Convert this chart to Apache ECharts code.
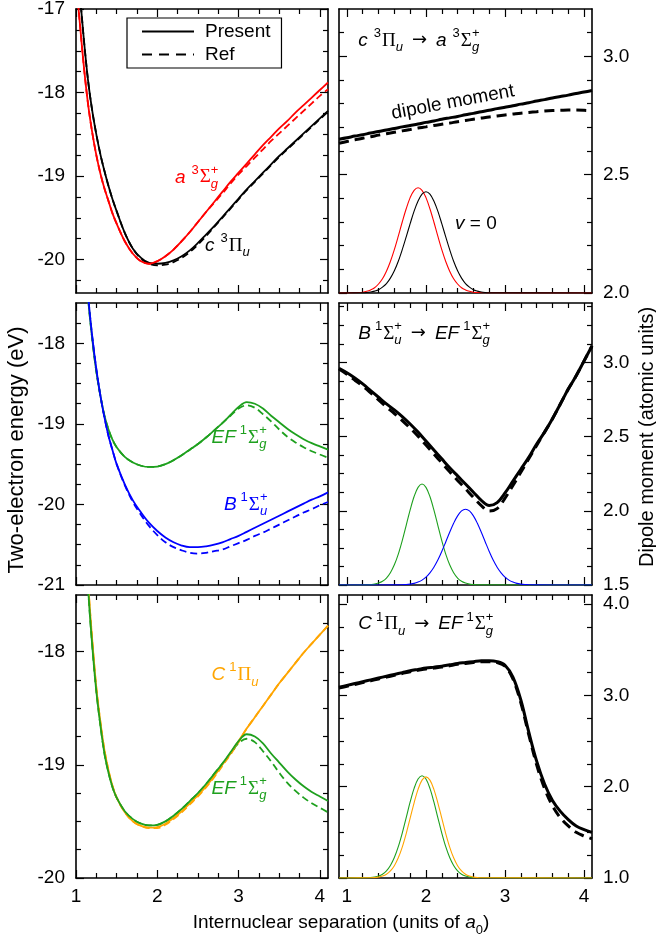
<!DOCTYPE html>
<html><head><meta charset="utf-8">
<script src="https://cdn.jsdelivr.net/npm/echarts@6/dist/echarts.min.js"></script>
<style>html,body{margin:0;padding:0;background:#fff}#c{width:656px;height:939px}</style>
</head><body><div id="c"></div>
<script>
// ================= DATA =================
// Potential energy curves (eV) vs internuclear separation R (a0)
const R_E = [1.0,1.05,1.1,1.15,1.2,1.25,1.3,1.35,1.4,1.45,1.5,1.6,1.7,1.8,1.9,2.0,2.1,2.2,2.3,2.4,2.5,2.6,2.7,2.8,2.9,3.0,3.1,3.2,3.3,3.4,3.5,3.6,3.7,3.8,3.9,4.0,4.1];
const E_c3Pu_present = [-16.3,-16.85,-17.4,-17.87,-18.22,-18.5,-18.74,-18.94,-19.12,-19.28,-19.42,-19.68,-19.87,-19.98,-20.04,-20.05,-20.04,-20.01,-19.96,-19.89,-19.8,-19.7,-19.6,-19.49,-19.38,-19.27,-19.16,-19.06,-18.96,-18.86,-18.76,-18.67,-18.58,-18.49,-18.4,-18.31,-18.22];
const E_c3Pu_ref     = [-16.3,-16.85,-17.4,-17.87,-18.22,-18.5,-18.74,-18.94,-19.12,-19.28,-19.42,-19.68,-19.87,-19.99,-20.05,-20.07,-20.06,-20.03,-19.98,-19.91,-19.82,-19.72,-19.61,-19.5,-19.39,-19.28,-19.17,-19.07,-18.97,-18.87,-18.77,-18.68,-18.59,-18.5,-18.41,-18.32,-18.23];
const E_a3Sg_present = [-16.65,-17.2,-17.72,-18.15,-18.48,-18.75,-18.97,-19.15,-19.3,-19.45,-19.57,-19.78,-19.93,-20.02,-20.05,-20.02,-19.96,-19.88,-19.78,-19.67,-19.55,-19.43,-19.31,-19.19,-19.07,-18.96,-18.85,-18.74,-18.63,-18.53,-18.43,-18.34,-18.24,-18.15,-18.06,-17.97,-17.88];
const E_a3Sg_ref     = [-16.65,-17.2,-17.72,-18.15,-18.48,-18.75,-18.97,-19.15,-19.3,-19.45,-19.57,-19.78,-19.93,-20.02,-20.05,-20.02,-19.96,-19.88,-19.78,-19.67,-19.55,-19.43,-19.32,-19.21,-19.09,-18.98,-18.88,-18.78,-18.68,-18.58,-18.49,-18.4,-18.31,-18.22,-18.13,-18.04,-17.96];
const E_EF_present   = [-15.3,-16.0,-16.75,-17.45,-17.95,-18.35,-18.65,-18.9,-19.07,-19.2,-19.29,-19.41,-19.48,-19.52,-19.535,-19.53,-19.5,-19.45,-19.39,-19.32,-19.25,-19.17,-19.08,-18.99,-18.89,-18.79,-18.73,-18.75,-18.81,-18.9,-18.98,-19.06,-19.13,-19.19,-19.24,-19.28,-19.32];
const E_EF_ref       = [-15.3,-16.0,-16.75,-17.45,-17.95,-18.35,-18.65,-18.9,-19.07,-19.2,-19.29,-19.41,-19.48,-19.52,-19.535,-19.53,-19.5,-19.45,-19.39,-19.32,-19.25,-19.17,-19.08,-18.99,-18.9,-18.81,-18.77,-18.8,-18.88,-18.97,-19.07,-19.16,-19.23,-19.29,-19.34,-19.38,-19.42];
const E_B1Su_present = [-15.3,-16.0,-16.75,-17.42,-17.92,-18.32,-18.65,-18.92,-19.15,-19.33,-19.5,-19.75,-19.95,-20.1,-20.23,-20.33,-20.41,-20.47,-20.51,-20.53,-20.53,-20.52,-20.5,-20.47,-20.43,-20.39,-20.34,-20.29,-20.24,-20.19,-20.14,-20.09,-20.04,-19.99,-19.94,-19.9,-19.85];
const E_B1Su_ref     = [-15.3,-16.0,-16.75,-17.42,-17.92,-18.32,-18.65,-18.92,-19.15,-19.33,-19.5,-19.76,-19.97,-20.13,-20.27,-20.38,-20.47,-20.53,-20.57,-20.6,-20.61,-20.6,-20.58,-20.56,-20.52,-20.48,-20.44,-20.39,-20.35,-20.3,-20.25,-20.2,-20.15,-20.1,-20.06,-20.01,-19.97];
const E_C1Pu_present = [-15.2,-15.95,-16.7,-17.4,-17.9,-18.32,-18.62,-18.87,-19.05,-19.19,-19.29,-19.42,-19.5,-19.54,-19.555,-19.55,-19.52,-19.47,-19.41,-19.34,-19.27,-19.19,-19.1,-19.0,-18.9,-18.79,-18.68,-18.58,-18.48,-18.38,-18.28,-18.19,-18.1,-18.01,-17.93,-17.85,-17.77];
const E_C1Pu_ref     = [-15.2,-15.95,-16.7,-17.4,-17.9,-18.32,-18.62,-18.87,-19.05,-19.19,-19.29,-19.42,-19.5,-19.54,-19.56,-19.56,-19.53,-19.48,-19.42,-19.35,-19.28,-19.2,-19.11,-19.01,-18.91,-18.8,-18.68,-18.58,-18.48,-18.38,-18.28,-18.19,-18.1,-18.01,-17.93,-17.85,-17.77];

// Dipole moments (atomic units)
const R_D = [0.9,1.0,1.1,1.2,1.3,1.4,1.5,1.6,1.7,1.8,1.9,2.0,2.1,2.2,2.3,2.4,2.5,2.6,2.7,2.8,2.9,3.0,3.1,3.2,3.3,3.4,3.5,3.6,3.7,3.8,3.9,4.0,4.1];
const D_ca_present  = [2.650,2.656,2.663,2.669,2.676,2.682,2.689,2.695,2.702,2.708,2.714,2.721,2.727,2.734,2.740,2.746,2.753,2.759,2.766,2.772,2.779,2.785,2.791,2.798,2.804,2.811,2.817,2.824,2.830,2.836,2.843,2.849,2.856];
const D_ca_ref      = [2.633,2.640,2.647,2.654,2.660,2.667,2.673,2.679,2.685,2.691,2.697,2.702,2.708,2.713,2.718,2.724,2.729,2.734,2.739,2.744,2.748,2.752,2.756,2.760,2.763,2.766,2.769,2.771,2.772,2.773,2.773,2.772,2.770];
const D_BEF_present = [2.96,2.93,2.895,2.855,2.81,2.765,2.72,2.68,2.635,2.585,2.53,2.47,2.41,2.35,2.29,2.235,2.18,2.125,2.07,2.035,2.055,2.12,2.2,2.28,2.36,2.45,2.53,2.62,2.72,2.82,2.91,3.01,3.11];
const D_BEF_ref     = [2.955,2.92,2.88,2.84,2.795,2.748,2.7,2.655,2.608,2.557,2.502,2.443,2.383,2.323,2.263,2.205,2.148,2.09,2.035,1.998,2.015,2.085,2.17,2.26,2.35,2.44,2.53,2.62,2.72,2.82,2.91,3.01,3.11];
const D_CEF_present = [3.09,3.11,3.13,3.15,3.17,3.19,3.21,3.23,3.25,3.27,3.285,3.3,3.31,3.32,3.335,3.35,3.36,3.37,3.38,3.38,3.37,3.33,3.2,2.95,2.6,2.28,2.03,1.85,1.73,1.64,1.57,1.53,1.50];
const D_CEF_ref     = [3.08,3.1,3.12,3.14,3.16,3.18,3.2,3.22,3.24,3.26,3.275,3.29,3.3,3.31,3.325,3.34,3.35,3.36,3.37,3.37,3.36,3.32,3.18,2.92,2.57,2.24,1.98,1.79,1.66,1.57,1.5,1.46,1.43];

// v = 0 vibrational wavefunctions (drawn on the dipole panels' scale)
const W_a_x = [0.9,1.1,1.15,1.2,1.25,1.3,1.35,1.4,1.45,1.5,1.55,1.6,1.65,1.7,1.75,1.8,1.85,1.9,1.95,2.0,2.05,2.1,2.15,2.2,2.25,2.3,2.35,2.4,2.45,2.5,2.55,2.6,2.65,2.7,4.1];
const W_a_y = [2.0,2.001,2.002,2.0035,2.007,2.013,2.022,2.038,2.060,2.092,2.133,2.183,2.240,2.300,2.356,2.403,2.434,2.445,2.434,2.403,2.356,2.300,2.240,2.183,2.133,2.092,2.060,2.038,2.022,2.013,2.007,2.0035,2.002,2.001,2.0];
const W_c_x = [0.9,1.2,1.25,1.3,1.35,1.4,1.45,1.5,1.55,1.6,1.65,1.7,1.75,1.8,1.85,1.9,1.95,2.0,2.05,2.1,2.15,2.2,2.25,2.3,2.35,2.4,2.45,2.5,2.55,2.6,2.65,2.7,2.75,2.8,4.1];
const W_c_y = [2.0,2.001,2.002,2.004,2.008,2.014,2.025,2.040,2.063,2.094,2.134,2.183,2.237,2.293,2.346,2.389,2.418,2.428,2.418,2.389,2.346,2.293,2.237,2.183,2.134,2.094,2.063,2.040,2.025,2.014,2.008,2.004,2.002,2.001,2.0];
const W_EFm_x = [0.9,1.25,1.3,1.35,1.4,1.45,1.5,1.55,1.6,1.65,1.7,1.75,1.8,1.85,1.9,1.95,2.0,2.05,2.1,2.15,2.2,2.25,2.3,2.35,2.4,2.45,2.5,2.55,2.6,2.65,4.1];
const W_EFm_y = [1.5,1.501,1.503,1.506,1.513,1.525,1.547,1.583,1.636,1.708,1.799,1.902,2.006,2.096,2.158,2.18,2.158,2.096,2.006,1.902,1.799,1.708,1.636,1.583,1.547,1.525,1.513,1.506,1.503,1.501,1.5];
const W_B_x = [0.9,1.65,1.7,1.75,1.8,1.85,1.9,1.95,2.0,2.05,2.1,2.15,2.2,2.25,2.3,2.35,2.4,2.45,2.5,2.55,2.6,2.65,2.7,2.75,2.8,2.85,2.9,2.95,3.0,3.05,3.1,3.15,3.2,3.25,3.3,3.35,4.1];
const W_B_y = [1.5,1.501,1.502,1.503,1.506,1.511,1.520,1.533,1.553,1.582,1.620,1.668,1.726,1.790,1.855,1.916,1.966,1.999,2.01,1.999,1.966,1.916,1.855,1.790,1.726,1.668,1.620,1.582,1.553,1.533,1.520,1.511,1.506,1.503,1.502,1.501,1.5];
const W_EFb_x = [0.9,1.25,1.3,1.35,1.4,1.45,1.5,1.55,1.6,1.65,1.7,1.75,1.8,1.85,1.9,1.95,2.0,2.05,2.1,2.15,2.2,2.25,2.3,2.35,2.4,2.45,2.5,2.55,2.6,2.65,4.1];
const W_EFb_y = [1.0,1.002,1.004,1.010,1.021,1.042,1.078,1.137,1.224,1.343,1.492,1.662,1.833,1.982,2.084,2.12,2.084,1.982,1.833,1.662,1.492,1.343,1.224,1.137,1.078,1.042,1.021,1.010,1.004,1.002,1.0];
const W_C_x = [0.9,1.3,1.35,1.4,1.45,1.5,1.55,1.6,1.65,1.7,1.75,1.8,1.85,1.9,1.95,2.0,2.05,2.1,2.15,2.2,2.25,2.3,2.35,2.4,2.45,2.5,2.55,2.6,2.65,2.7,4.1];
const W_C_y = [1.0,1.002,1.004,1.010,1.021,1.041,1.077,1.135,1.221,1.339,1.487,1.655,1.824,1.971,2.072,2.108,2.072,1.971,1.824,1.655,1.487,1.339,1.221,1.135,1.077,1.041,1.021,1.010,1.004,1.002,1.0];

// Axis ranges and ticks
const X_LEFT = [1, 4.1], X_RIGHT = [0.9, 4.1];
const X_MAJOR = [1, 2, 3, 4];
const X_MINOR_LEFT = [1.25,1.5,1.75,2.25,2.5,2.75,3.25,3.5,3.75];
const X_MINOR_RIGHT = [1.2,1.4,1.6,1.8,2.2,2.4,2.6,2.8,3.2,3.4,3.6,3.8];
const Y_TL = [-20.4, -17], Y_TL_MAJOR = [-20,-19,-18,-17], Y_TL_MINOR = [-17.25,-17.5,-17.75,-18.25,-18.5,-18.75,-19.25,-19.5,-19.75,-20.25];
const Y_ML = [-21, -17.5], Y_ML_MAJOR = [-21,-20,-19,-18], Y_ML_MINOR = [-17.75,-18.25,-18.5,-18.75,-19.25,-19.5,-19.75,-20.25,-20.5,-20.75];
const Y_BL = [-20, -17.5], Y_BL_MAJOR = [-20,-19,-18], Y_BL_MINOR = [-17.75,-18.25,-18.5,-18.75,-19.25,-19.5,-19.75];
const Y_TR = [2.0, 3.2], Y_TR_MAJOR = [2.0,2.5,3.0], Y_TR_MINOR = [2.1,2.2,2.3,2.4,2.6,2.7,2.8,2.9,3.1];
const Y_MR = [1.5, 3.4], Y_MR_MAJOR = [1.5,2.0,2.5,3.0], Y_MR_MINOR = [1.625,1.75,1.875,2.125,2.25,2.375,2.625,2.75,2.875,3.125,3.25,3.375];
const Y_BR = [1.0, 4.1], Y_BR_MAJOR = [1,2,3,4], Y_BR_MINOR = [1.25,1.5,1.75,2.25,2.5,2.75,3.25,3.5,3.75];

// ================= CHART =================
const RED='#ff0000', GREEN='#1ea01e', BLUE='#0000ff', ORANGE='#ffa500', BLACK='#000000';
const SANS='"Liberation Sans", Arial, Helvetica, sans-serif';
const SERIF='"Liberation Serif", "Times New Roman", serif';
const FS=19;

const PANELS = [
  {grid:{left:76,top:9,width:252,height:284},  x:X_LEFT, xMin:X_MINOR_LEFT, y:Y_TL, yMaj:Y_TL_MAJOR, yMin:Y_TL_MINOR, xLab:false, side:'left'},
  {grid:{left:339,top:9,width:253,height:284}, x:X_RIGHT, xMin:X_MINOR_RIGHT, y:Y_TR, yMaj:Y_TR_MAJOR, yMin:Y_TR_MINOR, xLab:false, side:'right'},
  {grid:{left:76,top:303,width:252,height:282}, x:X_LEFT, xMin:X_MINOR_LEFT, y:Y_ML, yMaj:Y_ML_MAJOR, yMin:Y_ML_MINOR, xLab:false, side:'left'},
  {grid:{left:339,top:303,width:253,height:282}, x:X_RIGHT, xMin:X_MINOR_RIGHT, y:Y_MR, yMaj:Y_MR_MAJOR, yMin:Y_MR_MINOR, xLab:false, side:'right'},
  {grid:{left:76,top:595,width:252,height:283}, x:X_LEFT, xMin:X_MINOR_LEFT, y:Y_BL, yMaj:Y_BL_MAJOR, yMin:Y_BL_MINOR, xLab:true, side:'left'},
  {grid:{left:339,top:595,width:253,height:283}, x:X_RIGHT, xMin:X_MINOR_RIGHT, y:Y_BR, yMaj:Y_BR_MAJOR, yMin:Y_BR_MINOR, xLab:true, side:'right'}
];

function ax(gi, range, pos, vals, len, showLabel, fmt, showLine){
  return {type:'value', gridIndex:gi, min:range[0], max:range[1], position:pos, scale:true,
    axisLine:{show:showLine, onZero:false, lineStyle:{color:'#000', width:1.6}},
    axisTick:{show:true, inside:true, length:len, customValues:vals, lineStyle:{color:'#000', width:1.2}},
    axisLabel:{show:showLabel, customValues:vals, formatter:fmt, color:'#000', fontSize:FS, fontFamily:SANS, margin:showLabel?(pos==='bottom'?9:11):8},
    splitLine:{show:false}, minorTick:{show:false}, minorSplitLine:{show:false}, z:1};
}
const xAxes=[], yAxes=[], grids=[];
PANELS.forEach((p,gi)=>{
  grids.push(Object.assign({show:false, containLabel:false, outerBoundsMode:'none'}, p.grid));
  const xf = v=>String(Math.round(v));
  xAxes.push(ax(gi,p.x,'bottom',X_MAJOR,8,p.xLab,xf,true));
  xAxes.push(ax(gi,p.x,'bottom',p.xMin,5,false,null,false));
  xAxes.push(ax(gi,p.x,'top',X_MAJOR,8,false,null,true));
  xAxes.push(ax(gi,p.x,'top',p.xMin,5,false,null,false));
  const yf = p.side==='left' ? (v=>String(v)) : (v=>v.toFixed(1));
  yAxes.push(ax(gi,p.y,'left',p.yMaj,8,p.side==='left',yf,true));
  yAxes.push(ax(gi,p.y,'left',p.yMin,5,false,null,false));
  yAxes.push(ax(gi,p.y,'right',p.yMaj,8,p.side==='right',yf,true));
  yAxes.push(ax(gi,p.y,'right',p.yMin,5,false,null,false));
});

function line(gi, xs, ys, color, width, dash){
  return {type:'line', xAxisIndex:gi*4, yAxisIndex:gi*4,
    data: xs.map((x,i)=>[x, ys[i]]), symbol:'none', showSymbol:false, smooth:0.35,
    lineStyle:{color, width, type: dash||'solid', cap:'butt'}, itemStyle:{color},
    silent:true, animation:false, clip:true, z:3};
}
const DE=[7,4], DD=[10,6];
const series = [
  // legend entries
  {type:'line', name:'Present', xAxisIndex:0, yAxisIndex:0, data:[], symbol:'none', lineStyle:{color:'#000', width:2}, itemStyle:{color:'#000'}},
  {type:'line', name:'Ref', xAxisIndex:0, yAxisIndex:0, data:[], symbol:'none', lineStyle:{color:'#000', width:2, type:[10,7]}, itemStyle:{color:'#000'}},
  // top-left
  line(0,R_E,E_c3Pu_ref,BLACK,1.8,DE), line(0,R_E,E_a3Sg_ref,RED,1.8,DE),
  line(0,R_E,E_c3Pu_present,BLACK,1.8), line(0,R_E,E_a3Sg_present,RED,1.8),
  // top-right
  line(1,W_a_x,W_a_y,RED,1.1), line(1,W_c_x,W_c_y,BLACK,1.1),
  line(1,R_D,D_ca_ref,BLACK,3,DD), line(1,R_D,D_ca_present,BLACK,3),
  // middle-left
  line(2,R_E,E_EF_ref,GREEN,1.8,DE), line(2,R_E,E_B1Su_ref,BLUE,1.8,DE),
  line(2,R_E,E_EF_present,GREEN,1.8), line(2,R_E,E_B1Su_present,BLUE,1.8),
  // middle-right
  line(3,W_EFm_x,W_EFm_y,GREEN,1.1), line(3,W_B_x,W_B_y,BLUE,1.1),
  line(3,R_D,D_BEF_ref,BLACK,3,DD), line(3,R_D,D_BEF_present,BLACK,3),
  // bottom-left
  line(4,R_E,E_C1Pu_ref,ORANGE,1.8,DE), line(4,R_E,E_EF_ref,GREEN,1.8,DE),
  line(4,R_E,E_C1Pu_present,ORANGE,1.8), line(4,R_E,E_EF_present,GREEN,1.8),
  // bottom-right
  line(5,W_EFb_x,W_EFb_y,GREEN,1.1), line(5,W_C_x,W_C_y,ORANGE,1.1),
  line(5,R_D,D_CEF_ref,BLACK,3,DD), line(5,R_D,D_CEF_present,BLACK,3)
];

const chart = echarts.init(document.getElementById('c'), null, {renderer:'canvas'});
chart.setOption({
  animation:false, backgroundColor:'#fff',
  grid:grids, xAxis:xAxes, yAxis:yAxes, series,
  legend:{show:true, data:['Present','Ref'], orient:'vertical', left:127, top:18,
    itemWidth:52, itemHeight:12, itemGap:4, padding:[4,11,4,14],
    borderColor:'#000', borderWidth:1.2, borderRadius:0, backgroundColor:'#fff',
    itemStyle:{color:'rgba(0,0,0,0)', borderColor:'rgba(0,0,0,0)', borderWidth:0, opacity:0},
    textStyle:{fontSize:FS, fontFamily:SANS, color:'#000', padding:[0,0,0,6]}, selectedMode:false}
});

// ============ text annotations ============
const cv = document.createElement('canvas').getContext('2d');
function fstr(sz,it,fam){return (it?'italic ':'')+sz+'px '+fam;}
function meas(t,sz,it,fam){cv.font=fstr(sz,it,fam);return cv.measureText(t).width;}
const SM=13;
function build(tokens,color){
  let x=0; const kids=[];
  const add=(t,sz,it,fam,dx,dy)=>kids.push({type:'text',x:dx,y:dy,silent:true,
    style:{text:t,font:fstr(sz,it,fam),fill:color,align:'left',verticalAlign:'middle'}});
  for(const k of tokens){
    if(k.gap){x+=k.gap;continue;}
    if(k.t!==undefined){const fam=k.serif?SERIF:(k.dv?'"DejaVu Sans"':SANS);const sz=k.size||FS;
      add(k.t,sz,k.i,fam,x,k.dy||0);x+=meas(k.t,sz,k.i,fam)+(k.after||0);continue;}
    let w=0;
    if(k.sup!==undefined){add(k.sup,SM,false,SANS,x,-7);w=Math.max(w,meas(k.sup,SM,false,SANS));}
    if(k.sub!==undefined){add(k.sub,SM,!k.subUp,SANS,x,7);w=Math.max(w,meas(k.sub,SM,!k.subUp,SANS));}
    x+=w+(k.after||0);
  }
  return {kids,width:x};
}
const T = {
  a3Sg:[{t:'a',i:1},{gap:6},{sup:'3',after:1},{t:'Σ',serif:1},{sub:'g',sup:'+'}],
  c3Pu:[{t:'c',i:1},{gap:6},{sup:'3',after:1},{t:'Π',serif:1},{sub:'u'}],
  EF1Sg:[{t:'EF',i:1},{gap:4},{sup:'1',after:1},{t:'Σ',serif:1},{sub:'g',sup:'+'}],
  B1Su:[{t:'B',i:1},{gap:4},{sup:'1',after:1},{t:'Σ',serif:1},{sub:'u',sup:'+'}],
  C1Pu:[{t:'C',i:1},{gap:4},{sup:'1',after:1},{t:'Π',serif:1},{sub:'u'}]
};
const ARROW=[{gap:9},{t:'→',dv:1,size:18,dy:0},{gap:9}];
function gp(gi,x,y){return chart.convertToPixel({xAxisIndex:gi*4,yAxisIndex:gi*4},[x,y]);}
function label(gi,x,y,tokens,color,rot){
  const p=gp(gi,x,y); const b=build(tokens,color);
  return {type:'group',x:p[0],y:p[1]-6,rotation:rot||0,silent:true,children:b.kids,z:10};
}
const graphics=[
  label(0,2.217,-19.086,T.a3Sg,RED),
  label(0,2.586,-19.904,T.c3Pu,BLACK),
  label(1,1.144,3.041,[...T.c3Pu,...ARROW,...T.a3Sg],BLACK),
  label(1,1.566,2.732,[{t:'dipole moment'}],BLACK,0.185),
  label(1,2.367,2.266,[{t:'v',i:1},{t:' = 0'}],BLACK),
  label(2,2.668,-19.245,T.EF1Sg,GREEN),
  label(2,2.82,-20.079,T.B1Su,BLUE),
  label(3,1.144,3.153,[...T.B1Su,...ARROW,...T.EF1Sg],BLACK),
  label(4,2.668,-18.259,T.C1Pu,ORANGE),
  label(4,2.668,-19.265,T.EF1Sg,GREEN),
  label(5,1.144,3.716,[...T.C1Pu,...ARROW,...T.EF1Sg],BLACK)
];
// axis titles
graphics.push({type:'text',x:17,y:450,rotation:Math.PI/2,silent:true,
  style:{text:'Two-electron energy (eV)',font:fstr(22,false,SANS),fill:'#000',align:'center',verticalAlign:'middle'}});
graphics.push({type:'text',x:647,y:437,rotation:Math.PI/2,silent:true,
  style:{text:'Dipole moment (atomic units)',font:fstr(20,false,SANS),fill:'#000',align:'center',verticalAlign:'middle'}});
(function(){
  const b=build([{t:'Internuclear separation (units of '},{t:'a',i:1},{sub:'0',subUp:1},{t:')'}],'#000');
  graphics.push({type:'group',x:341-b.width/2,y:923,silent:true,children:b.kids});
})();
chart.setOption({graphic:graphics});
</script>
</body></html>
